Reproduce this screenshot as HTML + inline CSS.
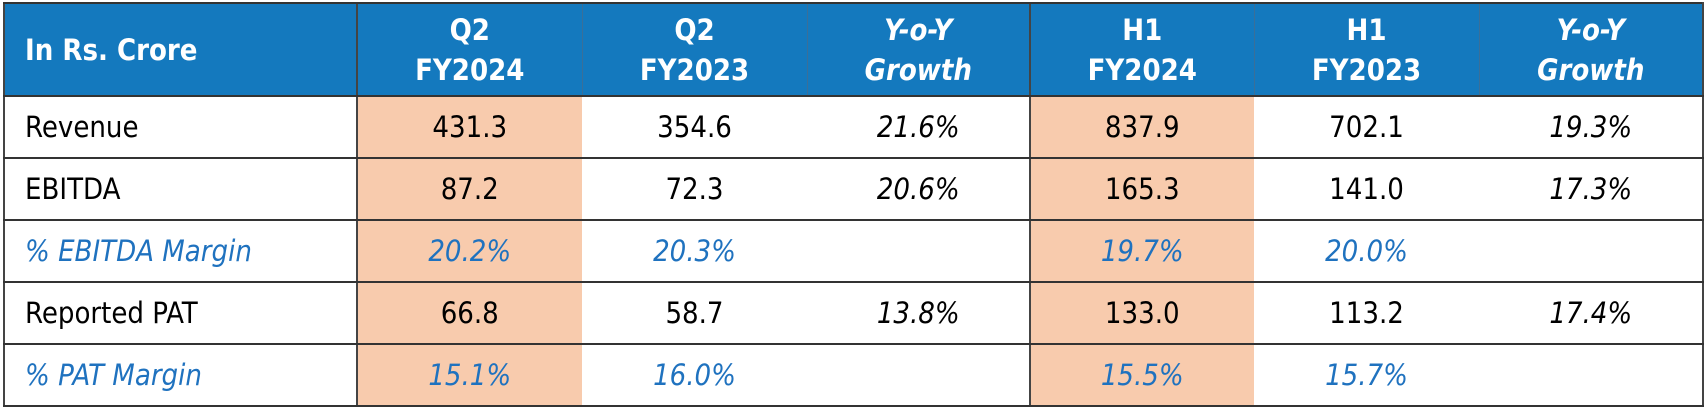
<!DOCTYPE html>
<html><head><meta charset="utf-8"><style>
body{margin:0;width:1704px;height:410px;background:#fff;overflow:hidden;font-family:"DejaVu Sans Condensed","Liberation Sans",sans-serif;}
table{position:absolute;left:3px;top:2px;border-collapse:collapse;table-layout:fixed;width:1699px;}
td{border-top:2px solid #333;border-bottom:2px solid #333;border-left:1px solid transparent;height:60px;font-size:29px;text-align:center;padding:0;color:#000;}
tr.h td{background:#1479be;color:#fff;font-weight:bold;height:91px;line-height:40px;border-top:2px solid #333;border-left:1px solid #3a6f99;}
td.l{text-align:left;padding-left:20px;}
.p{background:#f8cbad;}
.i{font-style:italic;}
.b{color:#1f72bf;font-style:italic;}
tr td.vl, tr.h td.vl{border-left:2px solid #444;}
.vr{border-right:2px solid #444;}
</style></head><body>
<table>
<colgroup><col style="width:353px"><col style="width:225px"><col style="width:225px"><col style="width:223px"><col style="width:224px"><col style="width:225px"><col style="width:224px"></colgroup>
<tr class="h"><td class="l vl">In Rs. Crore</td><td class="vl">Q2<br>FY2024</td><td>Q2<br>FY2023</td><td class="i">Y-o-Y<br>Growth</td><td class="vl">H1<br>FY2024</td><td>H1<br>FY2023</td><td class="i vr">Y-o-Y<br>Growth</td></tr>
<tr><td class="l vl">Revenue</td><td class="p vl">431.3</td><td>354.6</td><td class="i">21.6%</td><td class="p vl">837.9</td><td>702.1</td><td class="i vr">19.3%</td></tr>
<tr><td class="l vl">EBITDA</td><td class="p vl">87.2</td><td>72.3</td><td class="i">20.6%</td><td class="p vl">165.3</td><td>141.0</td><td class="i vr">17.3%</td></tr>
<tr><td class="l vl b">% EBITDA Margin</td><td class="p vl b">20.2%</td><td class="b">20.3%</td><td></td><td class="p vl b">19.7%</td><td class="b">20.0%</td><td class="vr"></td></tr>
<tr><td class="l vl">Reported PAT</td><td class="p vl">66.8</td><td>58.7</td><td class="i">13.8%</td><td class="p vl">133.0</td><td>113.2</td><td class="i vr">17.4%</td></tr>
<tr><td class="l vl b">% PAT Margin</td><td class="p vl b">15.1%</td><td class="b">16.0%</td><td></td><td class="p vl b">15.5%</td><td class="b">15.7%</td><td class="vr"></td></tr>
</table>
</body></html>
